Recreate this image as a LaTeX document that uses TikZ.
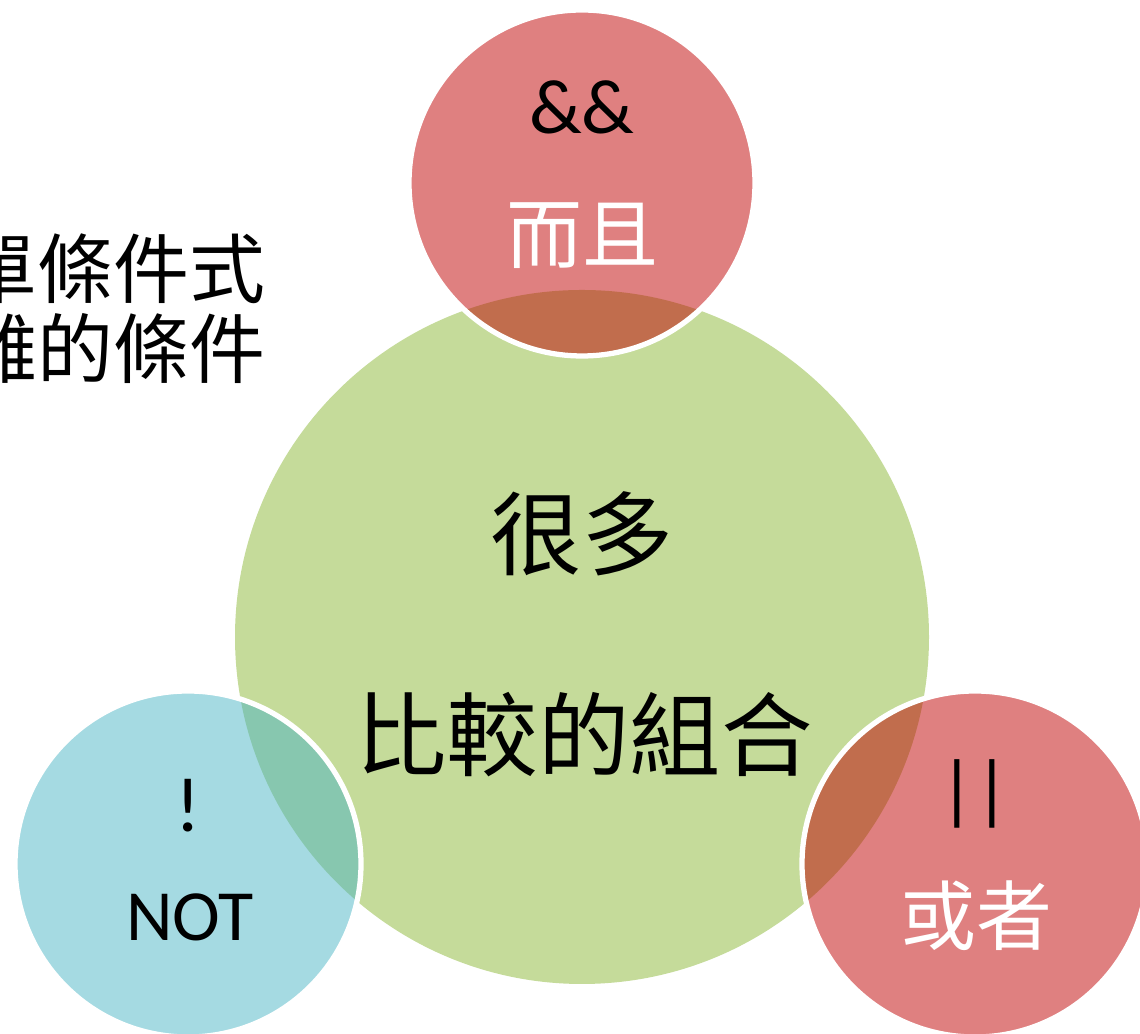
\documentclass[tikz,border=0pt]{standalone}
\usepackage{fontspec}
\setmainfont{Carlito}
\newfontfamily\cjk{Noto Sans CJK TC}
\usetikzlibrary{positioning}
\definecolor{olivegreen}{HTML}{C5DB9A}
\definecolor{darkred}{HTML}{BF0101}
\definecolor{aqua}{HTML}{4BB5C5}

\begin{document}
\begin{tikzpicture}[
    disc/.style={circle,inner sep=0pt,minimum size=3.46cm,draw=white,line width=1.5pt,fill opacity=0.5},
    hanzi/.style={inner sep=0pt,font=\cjk\fontsize{21.6}{26}\selectfont},
    big/.style={inner sep=0pt,font=\cjk\fontsize{26}{30}\selectfont},
    sym/.style={inner sep=0pt,font=\fontsize{22}{26}\selectfont},
  ]
              \useasboundingbox (0,0) rectangle (11.4,10.34);
              \clip (0,0) rectangle (11.4,10.34);
              \node[hanzi,anchor=east](simple)at(2.66,7.66){簡單條件式};
              \node[hanzi,anchor=east](complex)at(2.66,6.85){複雜的條件};
              \node[circle,fill=olivegreen,inner sep=0pt,minimum size=6.94cm](combo)at(5.82,3.97){};
              \node[disc,fill=darkred](and)at(5.82,8.51){};
              \node[disc,fill=aqua](not)at(1.88,1.70){};
              \node[disc,fill=darkred](or)at(9.75,1.70){};
              \node[big](many)at(5.82,5.00){很多};
              \node[big](compare)at(5.84,2.99){比較的組合};
              \node[sym](andsym)at(5.82,9.27){\&\&};
              \node[hanzi,text=white](andword)at(5.82,7.98){而且};
              \node[sym](notsym)at(1.88,2.28){!};
              \node[sym,font=\fontsize{20.5}{24}\selectfont](notword)at(1.90,1.17){NOT};
              \node[sym](orsym)at(9.75,2.40){||};
              \node[hanzi,text=white](orword)at(9.76,1.18){或者};
            \end{tikzpicture}
\end{document}
